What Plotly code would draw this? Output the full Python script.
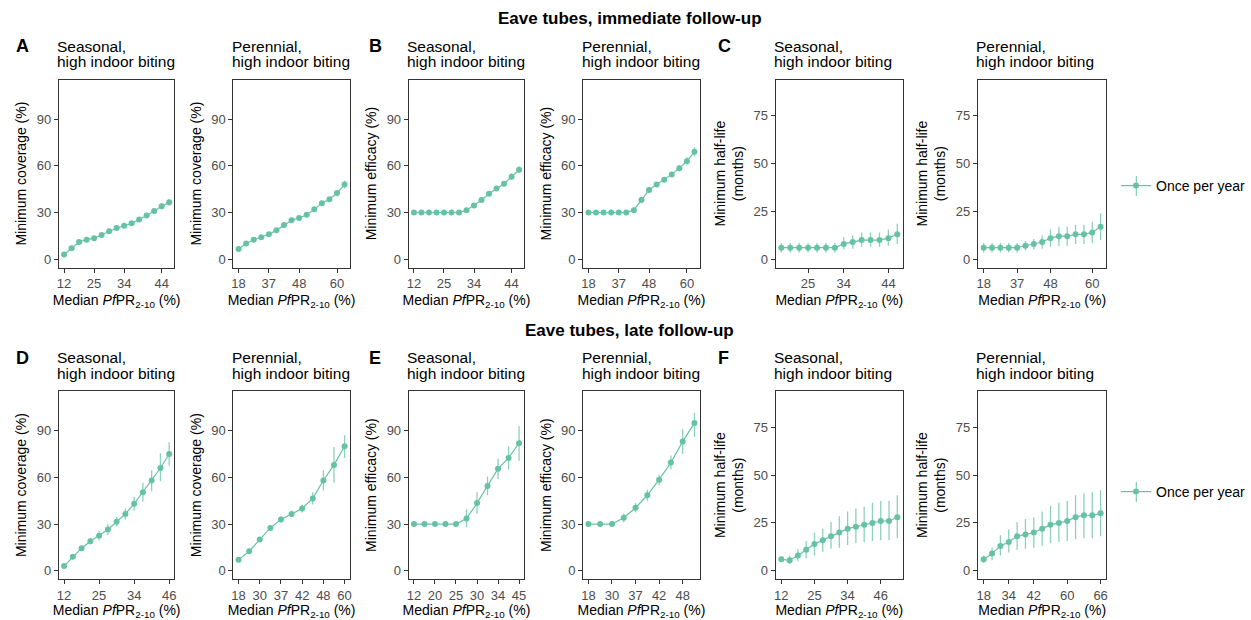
import plotly.graph_objects as go

W, H = 1251, 620
GREEN = "#66C2A5"
ERR = "rgba(102,194,165,0.75)"
FONT = "Liberation Sans, Arial, sans-serif"
HY = "\u2010"

# ---------------- data ----------------
# x-axis category labels (median PfPR2-10, blank = unlabelled category)
A_S_LABELS = ["12", "", "", "", "25", "", "", "", "34", "", "", "", "", "44", ""]
A_P_LABELS = ["18", "", "", "", "37", "", "", "", "48", "", "", "", "", "60", ""]
B_S_LABELS = ["12", "", "", "", "25", "", "", "", "34", "", "", "", "", "44", ""]
B_P_LABELS = ["18", "", "", "", "37", "", "", "", "48", "", "", "", "", "60", ""]
C_S_LABELS = ["", "", "", "25", "", "", "", "34", "", "", "", "", "44", ""]
C_P_LABELS = ["18", "", "", "", "37", "", "", "", "48", "", "", "", "", "60", ""]
D_S_LABELS = ["12", "", "", "", "25", "", "", "", "34", "", "", "", "46"]
D_P_LABELS = ["18", "", "30", "", "37", "", "42", "", "48", "", "60"]
E_S_LABELS = ["12", "", "20", "", "25", "", "30", "", "34", "", "45"]
E_P_LABELS = ["18", "", "30", "", "37", "", "42", "", "48", ""]
F_S_LABELS = ["12", "", "", "", "25", "", "", "", "34", "", "", "", "46", "", ""]
F_P_LABELS = ["18", "", "", "34", "", "", "42", "", "", "", "60", "", "", "", "66"]

# immediate follow-up: minimum coverage
A_S_MED = [3, 7, 11, 12.5, 13.5, 15.5, 18, 20, 21.5, 23, 25.5, 28, 31, 34, 36.5]
A_S_LO = [2, 6, 10, 11.5, 12.5, 14.5, 17, 19, 20.5, 22, 24.5, 26.5, 29.5, 32, 34.5]
A_S_HI = [4, 8.5, 12, 13.5, 14.5, 16.5, 19, 21, 22.5, 24, 26.5, 29.5, 32.5, 36, 38.5]
A_P_MED = [6.5, 10, 12.5, 14, 16, 18.5, 22, 25, 26.5, 28.5, 32, 36, 38.5, 42.5, 48]
A_P_LO = [5.5, 9, 11.5, 13, 15, 17.5, 21, 24, 25.5, 27.5, 30.5, 34.5, 37, 40.5, 45.5]
A_P_HI = [7.5, 11, 13.5, 15, 17, 19.5, 23, 26, 27.5, 29.5, 33.5, 37.5, 40, 44.5, 50.5]

# immediate follow-up: minimum efficacy
B_S_MED = [30, 30, 30, 30, 30, 30, 30, 31.5, 34.5, 38, 42, 45.5, 48.5, 53, 57.5]
B_S_LO = [29.5, 29.5, 29.5, 29.5, 29.5, 29.5, 29.5, 30.5, 33, 36.5, 40.5, 44, 47, 51, 55.5]
B_S_HI = [30.5, 30.5, 30.5, 30.5, 30.5, 30.5, 30.5, 33, 36, 39.5, 43.5, 47, 50, 55, 59.5]
B_P_MED = [30, 30, 30, 30, 30, 30, 31.5, 38, 44.5, 48, 51, 54.5, 58.5, 63, 69]
B_P_LO = [29.5, 29.5, 29.5, 29.5, 29.5, 29.5, 30.5, 36, 42.5, 46.5, 49.5, 53, 56.5, 61, 66]
B_P_HI = [30.5, 30.5, 30.5, 30.5, 30.5, 30.5, 33, 40, 46.5, 49.5, 52.5, 56, 60.5, 65.5, 72]

# immediate follow-up: minimum half-life (months)
C_S_MED = [6, 6, 6, 6, 6, 6, 6, 8, 9, 10, 10, 10, 11, 13]
C_S_LO = [3.5, 3.5, 3.5, 3.5, 3.5, 3.5, 3.5, 5, 5.5, 6.5, 6.5, 6.5, 7, 8]
C_S_HI = [8.5, 8.5, 8.5, 8.5, 8.5, 8.5, 8.5, 11.5, 12.5, 14, 14, 14, 15.5, 18.5]
C_P_MED = [6, 6, 6, 6, 6, 7, 8, 9, 11, 12, 12, 13, 13, 14, 17]
C_P_LO = [3.5, 3.5, 3.5, 3.5, 3.5, 4.5, 5, 5.5, 6.5, 7, 7, 8, 8, 8.5, 10]
C_P_HI = [8.5, 8.5, 8.5, 8.5, 8.5, 9.5, 10.5, 12.5, 15.5, 17, 17, 18, 18, 19.5, 24]

# late follow-up: minimum coverage
D_S_MED = [3, 9, 14.5, 19, 22.5, 26.5, 31.5, 36.5, 43, 50.5, 58, 66, 75]
D_S_LO = [1.5, 7.5, 13, 17, 19.5, 23, 28.5, 33, 38.5, 44.5, 51, 57.5, 67.5]
D_S_HI = [4.5, 10.5, 16, 21, 25.5, 30, 34.5, 40, 47.5, 56.5, 64.5, 75.5, 82.5]
D_P_MED = [7, 12.5, 20, 27.5, 33, 36.5, 40, 46.5, 58, 68, 80]
D_P_LO = [6, 11.5, 19, 26, 31, 34.5, 37.5, 42.5, 51.5, 56.5, 72.5]
D_P_HI = [8, 13.5, 21, 29, 35, 38.5, 42.5, 50.5, 64.5, 79.5, 87]

# late follow-up: minimum efficacy
E_S_MED = [30, 30, 30, 30, 30, 33.5, 43.5, 54.5, 65.5, 72.5, 82]
E_S_LO = [30, 30, 30, 30, 30, 28, 36.5, 48.5, 59, 65, 70.5]
E_S_HI = [30, 30, 30, 30, 30, 39.5, 50.5, 60.5, 72, 80, 93]
E_P_MED = [30, 30, 30, 34, 40.5, 48.5, 58.5, 69.5, 83, 95]
E_P_LO = [30, 30, 30, 31, 37.5, 45, 55, 65, 75, 86]
E_P_HI = [30, 30, 30, 37, 43.5, 52, 62, 74, 91, 101.5]

# late follow-up: minimum half-life (months)
F_S_MED = [6, 5.5, 8, 11, 14, 16, 18, 20, 22, 23, 24, 25, 26, 26, 28]
F_S_LO = [5, 3.5, 5, 6.5, 8, 10, 11.5, 12, 13.5, 14.5, 15, 15.5, 16, 16, 17]
F_S_HI = [7.5, 8, 11.5, 15.5, 20, 22, 25.5, 28.5, 31, 32.5, 33.5, 35.5, 36.5, 36.5, 39.5]
F_P_MED = [6, 9, 13, 15, 18, 19, 20, 22, 24, 25, 26, 28, 29, 29, 30]
F_P_LO = [4, 5.5, 8, 9.5, 11, 11.5, 12, 13, 14.5, 15, 15.5, 16.5, 17, 17, 18]
F_P_HI = [8, 12, 18.5, 21.5, 25.5, 27, 28, 31, 34, 35.5, 36.5, 39.5, 40.5, 41, 42]

SERIES_NAME = "Once per year"
ROW_TITLES = ["Eave tubes, immediate follow" + HY + "up", "Eave tubes, late follow" + HY + "up"]
PANEL_LETTERS = [["A", "B", "C"], ["D", "E", "F"]]
Y_TITLES = ["Minimum coverage (%)", "Minimum efficacy (%)",
            "Minimum half" + HY + "life<br>(months)"]
X_TITLE = "Median <i>Pf</i>PR<sub>2" + HY + "10</sub> (%)"

# ---------------- layout geometry (pixels) ----------------
COLS = [(57, 173), (232, 349), (408, 524), (583, 700), (776, 904), (979, 1108)]
ROWS = [(79.5, 267.7), (391, 579.3)]
LETTER_X = [13, 367, 717]
ROW_SHIFT = ROWS[1][0] - ROWS[0][0]


def fx(x):
    return x / W


def fy(y):
    return 1 - y / H


panels = [
    (0, 0, A_S_LABELS, A_S_MED, A_S_LO, A_S_HI),
    (0, 1, A_P_LABELS, A_P_MED, A_P_LO, A_P_HI),
    (0, 2, B_S_LABELS, B_S_MED, B_S_LO, B_S_HI),
    (0, 3, B_P_LABELS, B_P_MED, B_P_LO, B_P_HI),
    (0, 4, C_S_LABELS, C_S_MED, C_S_LO, C_S_HI),
    (0, 5, C_P_LABELS, C_P_MED, C_P_LO, C_P_HI),
    (1, 0, D_S_LABELS, D_S_MED, D_S_LO, D_S_HI),
    (1, 1, D_P_LABELS, D_P_MED, D_P_LO, D_P_HI),
    (1, 2, E_S_LABELS, E_S_MED, E_S_LO, E_S_HI),
    (1, 3, E_P_LABELS, E_P_MED, E_P_LO, E_P_HI),
    (1, 4, F_S_LABELS, F_S_MED, F_S_LO, F_S_HI),
    (1, 5, F_P_LABELS, F_P_MED, F_P_LO, F_P_HI),
]

fig = go.Figure()
layout = dict(
    width=W, height=H, margin=dict(l=0, r=0, t=0, b=0),
    paper_bgcolor="white", plot_bgcolor="white",
    font=dict(family=FONT, size=14, color="black"),
    annotations=[], shapes=[],
)

axis_common = dict(
    showline=True, mirror=True, linecolor="#333333", linewidth=1,
    ticks="outside", ticklen=4, tickwidth=1, tickcolor="#333333",
    showgrid=False, zeroline=False, fixedrange=True,
    tickfont=dict(family=FONT, size=13, color="#4D4D4D"),
)


def note(text, x, y, size, **kw):
    """Paper-anchored text placed at pixel coordinates."""
    d = dict(text=text, xref="paper", yref="paper", x=fx(x), y=fy(y),
             showarrow=False, font=dict(family=FONT, size=size, color="black"))
    d.update(kw)
    layout["annotations"].append(d)


for k, (r, c, labels, med, lo, hi) in enumerate(panels, start=1):
    n = len(med)
    xs = list(range(1, n + 1))
    x0, x1 = COLS[c]
    y0, y1 = ROWS[r]
    pad = 0.05 * (n - 1)
    tickvals = [i for i, lab in zip(xs, labels) if lab]
    ticktext = [lab for lab in labels if lab]
    halflife = c >= 4
    xname = "xaxis" if k == 1 else f"xaxis{k}"
    yname = "yaxis" if k == 1 else f"yaxis{k}"
    layout[xname] = dict(
        axis_common, domain=[fx(x0), fx(x1)], anchor=f"y{k}" if k > 1 else "y",
        range=[1 - pad, n + pad], tickmode="array", tickvals=tickvals, ticktext=ticktext,
        title=dict(text=X_TITLE, font=dict(family=FONT, size=14, color="black"), standoff=4),
    )
    layout[yname] = dict(
        axis_common, domain=[fy(y1), fy(y0)], anchor=f"x{k}" if k > 1 else "x",
        range=[-4.45, 93.9] if halflife else [-5.5, 115.5],
        tickmode="array", tickvals=[0, 25, 50, 75] if halflife else [0, 30, 60, 90],
        title=dict(text=Y_TITLES[c // 2], font=dict(family=FONT, size=14, color="black"),
                   standoff=6),
    )
    fig.add_trace(go.Scatter(
        x=xs, y=med, mode="lines+markers", name=SERIES_NAME,
        line=dict(color=GREEN, width=1.2),
        marker=dict(color=GREEN, size=6),
        error_y=dict(type="data", symmetric=False,
                     array=[h - m for h, m in zip(hi, med)],
                     arrayminus=[m - l for m, l in zip(med, lo)],
                     color=ERR, thickness=1.3, width=0),
        xaxis=f"x{k}" if k > 1 else "x", yaxis=f"y{k}" if k > 1 else "y",
        showlegend=(c == 5),
        legend="legend" if r == 0 else "legend2",
        hoverinfo="x+y",
    ))
    # panel subtitle, one annotation per line for tight line spacing
    sub = "Seasonal," if c % 2 == 0 else "Perennial,"
    note(sub, x0 - 3.5, y0 - 33.5, 15.5, xanchor="left", yanchor="middle")
    note("high indoor biting", x0 - 3.5, y0 - 17.5, 15.5, xanchor="left", yanchor="middle")

for r in range(2):
    dy = r * ROW_SHIFT
    note("<b>" + ROW_TITLES[r] + "</b>", 630, 18.5 + dy, 17,
         xanchor="center", yanchor="middle")
    for j, letter in enumerate(PANEL_LETTERS[r]):
        note("<b>" + letter + "</b>", LETTER_X[j] - 1, 46 + dy, 18,
             xanchor="left", yanchor="middle")

# legends (one per row) with a vertical error-bar stroke across the key
LEG_Y = [186, 492]
for r, key in enumerate(["legend", "legend2"]):
    layout[key] = dict(
        x=fx(1118), xanchor="left", y=fy(LEG_Y[r]), yanchor="middle",
        bgcolor="rgba(0,0,0,0)", borderwidth=0, itemwidth=30,
        font=dict(family=FONT, size=14, color="black"),
    )
    layout["shapes"].append(dict(
        type="line", xref="paper", yref="paper",
        x0=fx(1138), x1=fx(1138), y0=fy(LEG_Y[r] - 10), y1=fy(LEG_Y[r] + 10),
        line=dict(color=ERR, width=1.3),
    ))

fig.update_layout(**layout)
fig.write_html("out.html")
